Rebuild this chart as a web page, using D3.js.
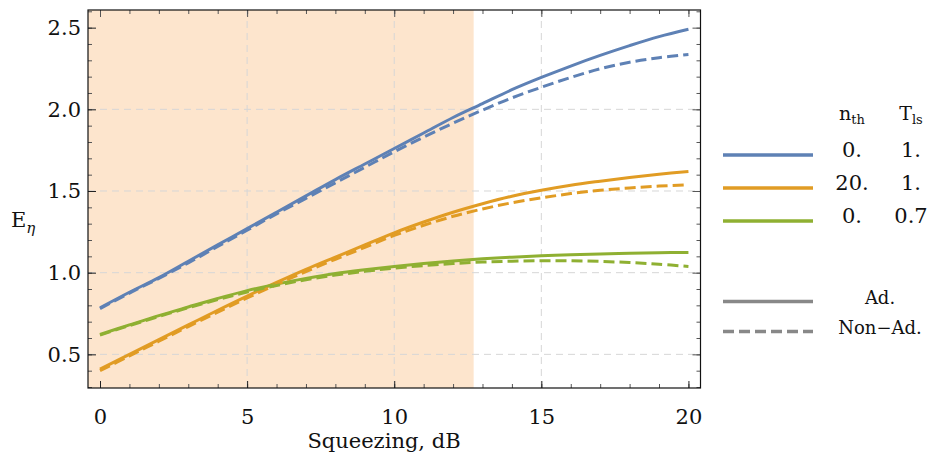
<!DOCTYPE html>
<html>
<head>
<meta charset="utf-8">
<script src="https://cdn.jsdelivr.net/npm/d3@7"></script>
<style>
  html, body { margin: 0; padding: 0; background: #ffffff; }
</style>
</head>
<body>
<svg id="chart" width="930" height="458"></svg>
<script>
// ---------------- data ----------------
const squeezing = [0,1,2,3,4,5,6,7,8,9,10,11,12,13,14,15,16,17,18,19,20];

const blueAd    = [0.785,0.88,0.97,1.07,1.17,1.27,1.37,1.47,1.57,1.665,1.76,1.855,1.95,2.035,2.12,2.195,2.265,2.33,2.39,2.445,2.49];
const blueNonAd = [0.78,0.875,0.965,1.06,1.16,1.26,1.36,1.455,1.55,1.645,1.74,1.83,1.915,1.995,2.07,2.135,2.195,2.248,2.288,2.316,2.336];

const orangeAd    = [0.41,0.50,0.59,0.68,0.77,0.857,0.94,1.02,1.095,1.17,1.244,1.31,1.37,1.422,1.468,1.504,1.535,1.56,1.583,1.603,1.62];
const orangeNonAd = [0.40,0.49,0.58,0.67,0.758,0.845,0.928,1.007,1.082,1.155,1.228,1.29,1.345,1.39,1.428,1.458,1.484,1.504,1.519,1.53,1.538];

const greenAd    = [0.622,0.68,0.737,0.79,0.842,0.89,0.93,0.965,0.995,1.018,1.038,1.056,1.072,1.085,1.095,1.103,1.109,1.115,1.119,1.122,1.124];
const greenNonAd = [0.618,0.676,0.732,0.785,0.835,0.882,0.922,0.957,0.985,1.008,1.028,1.043,1.056,1.065,1.07,1.073,1.073,1.069,1.062,1.052,1.038];

const shadeEnd = 12.7;   // shaded squeezing region upper bound (dB)

const xTicks = [0,5,10,15,20];
const yTicks = [0.5,1.0,1.5,2.0,2.5];
const xMinorTicks = d3.range(0, 21, 1);
const yMinorTicks = d3.range(3, 27, 1).map(d => d / 10);

const legendRows = [
  { nth: "0.",  tls: "1.",  color: "#5E81B5" },
  { nth: "20.", tls: "1.",  color: "#E19C24" },
  { nth: "0.",  tls: "0.7", color: "#8FB032" }
];
const styleRows = [
  { label: "Ad.",     dash: null },
  { label: "Non\u2212Ad.", dash: "11,5" }
];

const series = [
  { values: blueAd,      color: "#5E81B5", dash: null },
  { values: orangeAd,    color: "#E19C24", dash: null },
  { values: greenAd,     color: "#8FB032", dash: null },
  { values: blueNonAd,   color: "#5E81B5", dash: "11,5" },
  { values: orangeNonAd, color: "#E19C24", dash: "11,5" },
  { values: greenNonAd,  color: "#8FB032", dash: "11,5" }
];

const FONT = "DejaVu Serif";

// ---------------- layout ----------------
const svg = d3.select("#chart");
const L = 88, R = 700.5, T = 10, B = 388;

const x = d3.scaleLinear().domain([-0.408, 20.41]).range([L, R]);
const y = d3.scaleLinear().domain([0.294, 2.608]).range([B, T]);

svg.append("defs").append("clipPath").attr("id", "clip")
  .append("rect").attr("x", L).attr("y", T).attr("width", R - L).attr("height", B - T);

// shaded region
svg.append("rect")
  .attr("x", x(x.domain()[0])).attr("y", T)
  .attr("width", x(shadeEnd) - x(x.domain()[0]))
  .attr("height", B - T)
  .attr("fill", "#FDE5CD");

// grid
const grid = svg.append("g").attr("stroke", "#d6d6d6").attr("stroke-width", 1).attr("stroke-dasharray", "7,5");
grid.selectAll("line.gx").data(xTicks.filter(d => d > 0 && d < 20)).join("line")
  .attr("x1", d => x(d)).attr("x2", d => x(d)).attr("y1", B).attr("y2", T);
grid.selectAll("line.gy").data(yTicks.filter(d => d < 2.5)).join("line")
  .attr("y1", d => y(d)).attr("y2", d => y(d)).attr("x1", L).attr("x2", R);

// lines
const line = d3.line().x((d, i) => x(squeezing[i])).y(d => y(d)).curve(d3.curveCatmullRom.alpha(0.5));
const lg = svg.append("g").attr("clip-path", "url(#clip)");
series.forEach(s => {
  lg.append("path")
    .attr("d", line(s.values))
    .attr("fill", "none")
    .attr("stroke", s.color)
    .attr("stroke-width", 3)
    .attr("stroke-dasharray", s.dash);
});

// axes (ticks inward)
function styleAxis(g) {
  g.attr("font-family", null).attr("font-size", null);
  g.select(".domain").remove();
  g.selectAll(".tick line").attr("stroke", "#222");
  g.selectAll("text").attr("fill", "#111").attr("font-size", 21);
}
function minorAxis(g) {
  g.select(".domain").remove();
  g.selectAll(".tick line").attr("stroke", "#555");
  g.selectAll("text").remove();
}

svg.append("g").attr("transform", `translate(0,${B})`)
  .call(d3.axisBottom(x).tickValues(xMinorTicks).tickSize(-4).tickFormat(""))
  .call(minorAxis);
svg.append("g").attr("transform", `translate(0,${B})`)
  .call(d3.axisBottom(x).tickValues(xTicks).tickSize(-7).tickPadding(21).tickFormat(d3.format("d")))
  .call(styleAxis);
svg.append("g").attr("transform", `translate(0,${T})`)
  .call(d3.axisTop(x).tickValues(xMinorTicks).tickSize(-4).tickFormat(""))
  .call(minorAxis);
svg.append("g").attr("transform", `translate(0,${T})`)
  .call(d3.axisTop(x).tickValues(xTicks).tickSize(-7).tickFormat(""))
  .call(minorAxis);

svg.append("g").attr("transform", `translate(${L},0)`)
  .call(d3.axisLeft(y).tickValues(yMinorTicks).tickSize(-4).tickFormat(""))
  .call(minorAxis);
svg.append("g").attr("transform", `translate(${L},0)`)
  .call(d3.axisLeft(y).tickValues(yTicks).tickSize(-8).tickPadding(7).tickFormat(d3.format(".1f")))
  .call(styleAxis);
svg.append("g").attr("transform", `translate(${R},0)`)
  .call(d3.axisRight(y).tickValues(yMinorTicks).tickSize(-4).tickFormat(""))
  .call(minorAxis);
svg.append("g").attr("transform", `translate(${R},0)`)
  .call(d3.axisRight(y).tickValues(yTicks).tickSize(-8).tickFormat(""))
  .call(minorAxis);

// frame
svg.append("rect").attr("x", L).attr("y", T).attr("width", R - L).attr("height", B - T)
  .attr("fill", "none").attr("stroke", "#111").attr("stroke-width", 1.2);

// axis titles
svg.append("text").attr("x", 384).attr("y", 448).attr("text-anchor", "middle")
  .attr("font-size", 21).attr("fill", "#111").text("Squeezing, dB");

const yl = svg.append("text").attr("x", 11).attr("y", 227).attr("font-size", 21).attr("fill", "#111");
yl.append("tspan").text("E");
yl.append("tspan").attr("dy", 6).attr("font-size", 15).attr("font-style", "italic").text("\u03B7");

// legend: parameter table
const hdr1 = svg.append("text").attr("x", 852).attr("y", 120).attr("text-anchor", "middle").attr("font-size", 19).attr("fill", "#111");
hdr1.append("tspan").text("n");
hdr1.append("tspan").attr("dy", 4).attr("font-size", 13).text("th");
const hdr2 = svg.append("text").attr("x", 911).attr("y", 120).attr("text-anchor", "middle").attr("font-size", 19).attr("fill", "#111");
hdr2.append("tspan").text("T");
hdr2.append("tspan").attr("dy", 4).attr("font-size", 13).text("ls");

const rowY = d3.scalePoint().domain(d3.range(legendRows.length)).range([155, 221]);
legendRows.forEach((r, i) => {
  const yy = rowY(i);
  svg.append("line").attr("x1", 723).attr("x2", 813).attr("y1", yy).attr("y2", yy)
    .attr("stroke", r.color).attr("stroke-width", 3.5);
  svg.append("text").attr("x", 852).attr("y", yy + 2).attr("text-anchor", "middle")
    .attr("font-size", 21).attr("fill", "#111").text(r.nth);
  svg.append("text").attr("x", 911).attr("y", yy + 2).attr("text-anchor", "middle")
    .attr("font-size", 21).attr("fill", "#111").text(r.tls);
});

const styleY = d3.scalePoint().domain(d3.range(styleRows.length)).range([301.5, 331.5]);
styleRows.forEach((r, i) => {
  const yy = styleY(i);
  svg.append("line").attr("x1", 723).attr("x2", 813).attr("y1", yy).attr("y2", yy)
    .attr("stroke", "#888").attr("stroke-width", 3.5).attr("stroke-dasharray", r.dash);
  svg.append("text").attr("x", 880).attr("y", yy + 2).attr("text-anchor", "middle")
    .attr("font-size", 18).attr("fill", "#111").text(r.label);
});

// apply the serif font to every text element
svg.selectAll("text").attr("font-family", FONT);
</script>
</body>
</html>
